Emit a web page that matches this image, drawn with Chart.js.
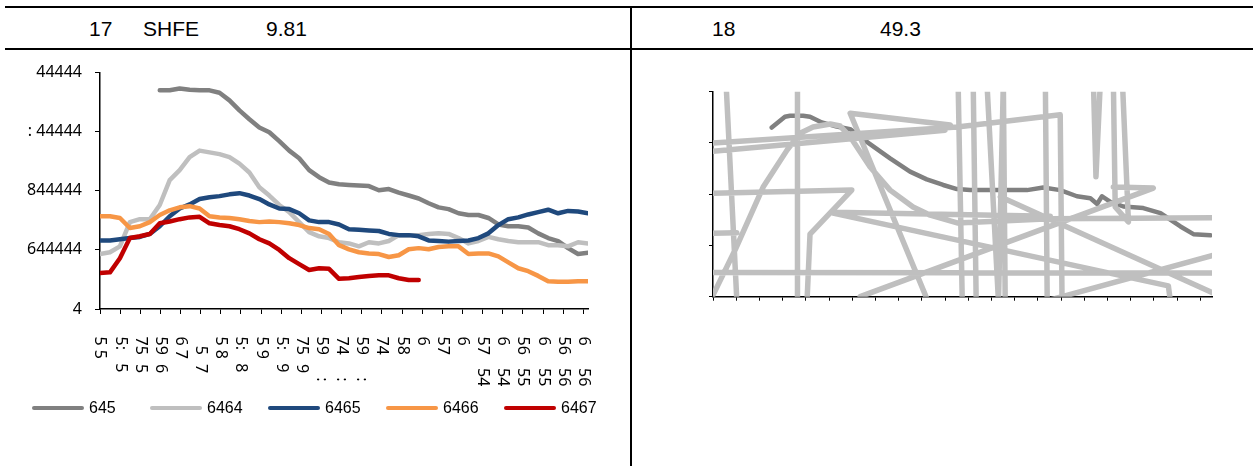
<!DOCTYPE html>
<html>
<head>
<meta charset="utf-8">
<script src="https://cdn.jsdelivr.net/npm/chart.js@4.4.1/dist/chart.umd.min.js"></script>
<style>
  html, body { margin: 0; padding: 0; background: #fff; }
  body { width: 1253px; height: 466px; position: relative; overflow: hidden; font-family: "Liberation Sans", Arial, sans-serif; color: #000; }
  .hline { position: absolute; left: 5px; width: 1248px; height: 2px; background: #000; }
  .vline { position: absolute; left: 630px; top: 7px; width: 2px; height: 459px; background: #000; }
  .ttl { position: absolute; top: 16px; font-size: 21px; line-height: 26px; white-space: pre; }
  #leftChart { position: absolute; left: 0; top: 50px; }
  #rightChart { position: absolute; left: 632px; top: 50px; }
  #legend { position: absolute; left: 32px; top: 398px; display: flex; }
  #legend .item { width: 118px; display: flex; align-items: center; }
  #legend .swatch { width: 52px; height: 4.5px; border-radius: 2px; margin-right: 5px; }
  #legend .txt { font-size: 16px; line-height: 20px; }
</style>
</head>
<body>
<div class="hline" style="top:6px"></div>
<div class="hline" style="top:48px"></div>
<div class="vline"></div>
<div class="ttl" style="left:89px">17</div>
<div class="ttl" style="left:143px">SHFE</div>
<div class="ttl" style="left:266px">9.81</div>
<div class="ttl" style="left:712px">18</div>
<div class="ttl" style="left:880px">49.3</div>
<canvas id="leftChart" width="631" height="416"></canvas>
<canvas id="rightChart" width="621" height="416"></canvas>
<div id="legend"></div>
<script>
// left chart: tick labels (garbled as in the source), read downward
const xLabels = ['5 5', '5:\u2007 5', '75\u20075', '59\u20076', '6 7', '\u20075\u20077', '5 8', '5:\u2007 8',
  '5 9', '5:\u2007 9', '75\u20079', '59\u2007\u2007 :', '74\u2007\u2007 :', '59\u2007\u2007 :', '74', '58', '6', '57', '6',
  '57\u2007 54', '6\u2007\u2007 54', '56\u2007 55', '6\u2007\u2007 55', '56\u2007 56', '6\u2007\u2007 56'];
const yLabels = ['4', '644444', '844444', ': 44444', '44444'];

const seriesNames = ['645', '6464', '6465', '6466', '6467'];
const seriesColors = ['#808080', '#BFBFBF', '#1F497D', '#F79646', '#C00000'];

// 50 samples across the axis
const s645 = [null, null, null, null, null, null, 3.70, 3.70, 3.73, 3.71, 3.70, 3.70, 3.66, 3.53, 3.36, 3.21,
  3.07, 2.99, 2.84, 2.68, 2.55, 2.35, 2.23, 2.14, 2.11, 2.10, 2.09, 2.08, 2.01, 2.03, 1.97, 1.92, 1.87, 1.79,
  1.72, 1.69, 1.62, 1.59, 1.59, 1.54, 1.43, 1.40, 1.40, 1.38, 1.28, 1.20, 1.15, 1.03, 0.93, 0.95];
const s6464 = [0.93, 0.96, 1.06, 1.47, 1.52, 1.52, 1.76, 2.18, 2.35, 2.57, 2.68, 2.65, 2.62, 2.57, 2.46, 2.31,
  2.06, 1.92, 1.76, 1.64, 1.47, 1.30, 1.23, 1.20, 1.13, 1.11, 1.06, 1.13, 1.11, 1.15, 1.25, 1.25, 1.25, 1.27,
  1.28, 1.27, 1.20, 1.11, 1.15, 1.22, 1.18, 1.15, 1.13, 1.13, 1.13, 1.08, 1.08, 1.06, 1.13, 1.11];
const s6465 = [1.16, 1.16, 1.18, 1.20, 1.22, 1.27, 1.40, 1.57, 1.70, 1.77, 1.86, 1.89, 1.91, 1.94, 1.96, 1.92,
  1.86, 1.77, 1.70, 1.69, 1.62, 1.50, 1.47, 1.47, 1.43, 1.35, 1.34, 1.33, 1.32, 1.27, 1.25, 1.25, 1.23, 1.16,
  1.15, 1.14, 1.15, 1.16, 1.20, 1.28, 1.42, 1.52, 1.55, 1.60, 1.64, 1.68, 1.62, 1.66, 1.65, 1.62];
const s6466 = [1.57, 1.57, 1.54, 1.37, 1.40, 1.47, 1.59, 1.67, 1.72, 1.74, 1.70, 1.57, 1.55, 1.54, 1.52, 1.49,
  1.47, 1.48, 1.47, 1.45, 1.42, 1.37, 1.35, 1.27, 1.08, 1.01, 0.96, 0.94, 0.93, 0.88, 0.91, 1.01, 1.03, 1.01,
  1.05, 1.06, 1.06, 0.93, 0.94, 0.94, 0.89, 0.79, 0.69, 0.64, 0.56, 0.47, 0.46, 0.46, 0.47, 0.47];
const s6467 = [0.61, 0.62, 0.86, 1.20, 1.23, 1.27, 1.45, 1.48, 1.52, 1.55, 1.56, 1.45, 1.42, 1.40, 1.35, 1.28,
  1.18, 1.11, 1.00, 0.86, 0.76, 0.66, 0.69, 0.68, 0.51, 0.52, 0.54, 0.56, 0.57, 0.57, 0.52, 0.49, 0.49];

// right chart: dark line and the tangled light line (null = break)
const rightDarkX = [2.53, 3.10, 3.32, 3.88, 4.18, 4.69, 5.33, 5.91, 6.63, 7.63, 8.49, 9.21, 9.92, 10.51, 11.08,
  12.38, 13.53, 14.23, 14.96, 15.68, 16.26, 16.55, 16.76, 17.12, 17.68, 18.54, 19.28, 20.14, 20.70, 21.43];
const rightDarkY = [3.30, 3.51, 3.53, 3.53, 3.51, 3.40, 3.32, 3.27, 3.02, 2.70, 2.44, 2.29, 2.18, 2.10, 2.08,
  2.08, 2.08, 2.13, 2.08, 1.96, 1.92, 1.81, 1.96, 1.85, 1.76, 1.73, 1.63, 1.37, 1.22, 1.20];
const rightLightX = [0, 10.52, 14.96, 15.04, null, 0, 10.0, null, 9.27, 5.91, 10.22, null, 0.57, 1.03, null,
  3.64, 3.64, null, 0, 5.98, 4.18, 4.05, null, 0, 1.02, null,
  0, 0.95, 2.16, 3.19, 3.75, 4.31, 5.05, 5.48, 5.91, 6.77, 7.63, 8.62, 9.36, 10.52, 14.53, 21.56, null,
  5.17, 14.53, null, 5.17, 19.62, 19.71, null, 0, 21.56, null, 6.34, 18.97, 17.25, null,
  17.25, 17.33, 17.90, 17.64, null, 16.39, 16.50, 16.69, null, 10.56, 10.74, null, 11.21, 11.34, null,
  11.80, 12.30, 12.51, 12.59, null, 14.32, 14.40, null, 12.38, 21.56, null, 14.23, 21.56];
const rightLightY = [3.00, 3.31, 3.55, -0.1, null, 2.84, 3.25, null, -0.1, 3.58, 3.35, null, 4.1, -0.1, null,
  4.2, -0.1, null, 2.02, 2.08, 1.22, -0.1, null, 1.24, 1.25, null,
  0.03, 0.91, 2.14, 2.86, 3.19, 3.31, 3.37, 3.33, 3.12, 2.53, 2.08, 1.75, 1.59, 1.44, 1.52, 1.54, null,
  1.65, 1.57, null, 1.63, 0.21, -0.1, null, 0.47, 0.46, null, 0, 2.12, 2.14, null,
  4.2, 1.75, 1.46, 4.2, null, 4.2, 2.34, 4.2, null, 4.2, -0.1, null, 4.2, -0.1, null,
  4.2, -0.1, 4.2, -0.1, null, 4.2, -0.1, null, 1.95, 0.07, null, -0.1, 0.81];

const xSpan = 24.23;   // label intervals covered by the left axis
const rightSpan = 21.5;

const leftSeries = [s645, s6464, s6465, s6466, s6467];
const n = s6464.length;

const leftDatasets = leftSeries.map((vals, k) => ({
  label: seriesNames[k],
  data: vals.map((v, i) => ({ x: i * xSpan / (n - 1), y: v })),
  borderColor: seriesColors[k],
  backgroundColor: seriesColors[k],
  borderWidth: 4.5,
  pointRadius: 0,
  tension: 0,
  borderCapStyle: 'round',
  borderJoinStyle: 'round',
  spanGaps: false,
  order: leftSeries.length - k
}));

// vertical labels, start of text against the axis
const xLabelPlugin = {
  id: 'xLabelPlugin',
  afterDraw(chart) {
    const xs = chart.scales.x;
    const ctx = chart.ctx;
    ctx.save();
    ctx.fillStyle = '#000';
    ctx.font = '16px "Noto Sans"';
    ctx.textAlign = 'left';
    ctx.textBaseline = 'middle';
    xLabels.forEach((lab, k) => {
      const px = xs.getPixelForValue(k);
      ctx.save();
      ctx.translate(px, xs.top + 27.5);
      ctx.rotate(Math.PI / 2);
      ctx.fillText(lab, 0, 0);
      ctx.restore();
    });
    ctx.restore();
  }
};

const axisBase = {
  grid: { drawOnChartArea: false, drawTicks: true, tickLength: 5, color: '#000', lineWidth: 1 },
  border: { display: true, color: '#000', width: 1.5 }
};

new Chart(document.getElementById('leftChart'), {
  type: 'line',
  data: { datasets: leftDatasets },
  options: {
    responsive: false,
    animation: false,
    devicePixelRatio: 1,
    layout: { padding: { left: 0, right: 43, top: 22, bottom: 0 } },
    plugins: { legend: { display: false }, tooltip: { enabled: false } },
    scales: {
      x: {
        type: 'linear', min: 0, max: xSpan,
        ticks: { display: false, stepSize: 1, includeBounds: false },
        ...axisBase,
        afterFit(s) { s.height = 157; }
      },
      y: {
        min: 0, max: 4,
        ticks: { stepSize: 1, padding: 13, color: '#000', font: { family: 'Noto Sans', size: 16 },
          callback: v => yLabels[v] },
        ...axisBase,
        afterFit(s) { s.width = 100; }
      }
    }
  },
  plugins: [xLabelPlugin]
});

const toPoints = (xs, ys) => xs.map((x, i) => (x === null ? { x: null, y: null } : { x: x, y: ys[i] }));

new Chart(document.getElementById('rightChart'), {
  type: 'scatter',
  data: {
    datasets: [
      { data: toPoints(rightDarkX, rightDarkY), showLine: true, borderColor: '#808080', borderWidth: 4.5,
        pointRadius: 0, borderCapStyle: 'round', borderJoinStyle: 'round', clip: 0, order: 1 },
      { data: toPoints(rightLightX, rightLightY), showLine: true, borderColor: '#BFBFBF', borderWidth: 5.5,
        pointRadius: 0, borderCapStyle: 'round', borderJoinStyle: 'round', spanGaps: false, clip: 0, order: 0 }
    ]
  },
  options: {
    responsive: false,
    animation: false,
    devicePixelRatio: 1,
    layout: { padding: { left: 0, right: 41, top: 41.7, bottom: 0 } },
    plugins: { legend: { display: false }, tooltip: { enabled: false } },
    scales: {
      x: {
        type: 'linear', min: 0, max: rightSpan,
        ticks: { display: false, stepSize: 1, includeBounds: false },
        ...axisBase,
        grid: { ...axisBase.grid, tickLength: 4 },
        afterFit(s) { s.height = 169.3; }
      },
      y: {
        min: 0, max: 4,
        ticks: { display: false, stepSize: 1 },
        ...axisBase,
        grid: { ...axisBase.grid, tickLength: 4 },
        afterFit(s) { s.width = 81; }
      }
    }
  }
});

// legend as in the source, fixed-width entries
const legend = document.getElementById('legend');
seriesNames.forEach((name, k) => {
  const item = document.createElement('div');
  item.className = 'item';
  item.innerHTML = `<div class="swatch" style="background:${seriesColors[k]}"></div><div class="txt">${name}</div>`;
  legend.appendChild(item);
});
</script>
</body>
</html>
